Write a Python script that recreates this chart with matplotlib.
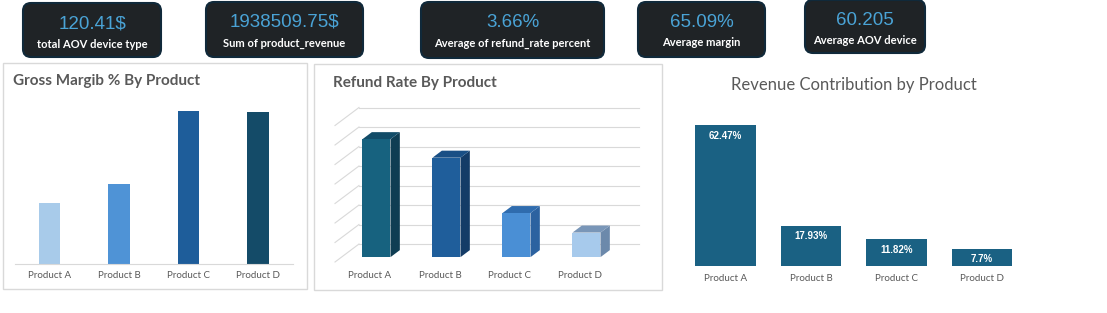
import matplotlib
matplotlib.use("Agg")
import matplotlib.pyplot as plt
from matplotlib.patches import FancyBboxPatch, Rectangle, Polygon

W, H = 1107, 313

# KPI cards
kpi_values = ["120.41$", "1938509.75$", "3.66%", "65.09%", "60.205"]
kpi_labels = ["total AOV device type", "Sum of product_revenue",
              "Average of refund_rate percent", "Average margin", "Average AOV device"]

# chart data
products = ["Product A", "Product B", "Product C", "Product D"]
gross_margin = [35.6, 46.7, 89.3, 88.7]
refund_rate = [6.05, 5.10, 2.26, 1.26]
revenue_share = [62.47, 17.93, 11.82, 7.7]

NARROW = ["Lato", "DejaVu Sans"]
TITLE = ["Lato", "DejaVu Sans"]
GRAY = "#595959"

fig = plt.figure(figsize=(W / 100, H / 100), dpi=100)
fig.patch.set_facecolor("white")


def px_axes(x0, y0, x1, y1):
    # axes placed in pixel coords (y from top)
    return fig.add_axes([x0 / W, 1 - y1 / H, (x1 - x0) / W, (y1 - y0) / H])


bg = fig.add_axes([0, 0, 1, 1])
bg.set_xlim(0, W)
bg.set_ylim(H, 0)
bg.axis("off")

# --- KPI cards ---
cards = [(23, 3, 161, 57), (206, 2, 363, 57), (421, 2, 604, 58),
         (638, 2, 765, 57), (805, 0, 925, 53)]
r = 8
for (x0, y0, x1, y1), val, lab in zip(cards, kpi_values, kpi_labels):
    box = FancyBboxPatch((x0 + r, y0 + r), x1 - x0 - 2 * r, y1 - y0 - 2 * r,
                         boxstyle=f"round,pad={r}", facecolor="#1F2326",
                         edgecolor="#10293A", linewidth=1.5)
    bg.add_patch(box)
    cx = (x0 + x1) / 2
    bg.text(cx, y0 + 20.5, val, ha="center", va="center", fontsize=13.5,
            color="#4AA3D6", family=["Liberation Sans", "DejaVu Sans"])
    bg.text(cx, y0 + 41, lab, ha="center", va="center", fontsize=8,
            color="white", fontweight="bold", family=NARROW)

# --- panel borders + titles ---
bg.add_patch(Rectangle((3, 63), 304, 226, fill=False, edgecolor="#D9D9D9", lw=1))
bg.add_patch(Rectangle((314, 64), 348, 226, fill=False, edgecolor="#D9D9D9", lw=1))
bg.text(13, 81, "Gross Margib % By Product", ha="left", va="center",
        fontsize=11, fontweight="bold", color=GRAY, family=TITLE)
bg.text(333, 83, "Refund Rate By Product", ha="left", va="center",
        fontsize=11, fontweight="bold", color=GRAY, family=TITLE)
bg.text(854, 85, "Revenue Contribution by Product", ha="center", va="center",
        fontsize=12, color=GRAY, family=TITLE)

# --- Gross margin chart ---
ax1 = px_axes(14.75, 100, 292.75, 264)
gm_colors = ["#A8CBEA", "#4F93D6", "#1E5D9A", "#144B68"]
ax1.bar(range(len(products)), gross_margin, width=0.31, color=gm_colors)
ax1.set_xlim(-0.5, 3.5)
ax1.set_ylim(0, 164 / 1.713)
for s in ["top", "right", "left"]:
    ax1.spines[s].set_visible(False)
ax1.spines["bottom"].set_color("#D9D9D9")
ax1.set_yticks([])
ax1.set_xticks(range(len(products)))
ax1.set_xticklabels(products, family=NARROW)
ax1.tick_params(axis="x", length=0, labelsize=7, labelcolor=GRAY, pad=5)
ax1.patch.set_alpha(0)

# --- Refund rate 3D-look chart ---
X0, Y0, CAT, UNIT = 335, 262, 70, 19.5
ax2 = px_axes(330, 100, 645, 266)
ax2.set_xlim(-0.5 + (330 - X0) / CAT, -0.5 + (645 - X0) / CAT)
ax2.set_ylim((Y0 - 266) / UNIT, (Y0 - 100) / UNIT)
ax2.axis("off")
DX, DY = 24 / CAT, 18 / UNIT
for k in range(8):
    ax2.plot([-0.5, -0.5 + DX], [k, k + DY], color="#D9D9D9", lw=0.8, zorder=1)
    ax2.plot([-0.5 + DX, 3.5 + DX], [k + DY, k + DY], color="#D9D9D9", lw=0.8, zorder=1)

rr_front = ["#17627F", "#1F5E9B", "#4A8FD5", "#A7CAEC"]
rr_top = ["#124C68", "#194F85", "#2F6CAE", "#7996B8"]
rr_side = ["#0F3D53", "#143C67", "#2C62A0", "#6C89AB"]
w, d0, dd = 0.4, 0.27, 0.39
for i, v in enumerate(refund_rate):
    xl = i - w / 2 + d0 * DX
    xr = i + w / 2 + d0 * DX
    yb = d0 * DY
    yt = yb + v
    ox, oy = dd * DX, dd * DY
    ax2.add_patch(Polygon([(xr, yb), (xr + ox, yb + oy), (xr + ox, yt + oy), (xr, yt)],
                          closed=True, facecolor=rr_side[i], edgecolor="none", zorder=2))
    ax2.add_patch(Polygon([(xl, yt), (xr, yt), (xr + ox, yt + oy), (xl + ox, yt + oy)],
                          closed=True, facecolor=rr_top[i], edgecolor="none", zorder=2))
    ax2.add_patch(Rectangle((xl, yb), xr - xl, v, facecolor=rr_front[i],
                            edgecolor="none", zorder=3))
    ax2.text(i, (Y0 - 275) / UNIT, products[i], ha="center", va="center",
             fontsize=7, color=GRAY, family=NARROW, clip_on=False)

# --- Revenue contribution chart ---
ax3 = px_axes(682.75, 100, 1024.75, 266)
ax3.bar(range(len(products)), revenue_share, width=0.71, color="#1A6183")
ax3.set_xlim(-0.5, 3.5)
ax3.set_ylim(0, 166 / 2.25)
for s in ax3.spines.values():
    s.set_visible(False)
ax3.set_yticks([])
ax3.set_xticks(range(len(products)))
ax3.set_xticklabels(products, family=NARROW)
ax3.tick_params(axis="x", length=0, labelsize=7, labelcolor=GRAY, pad=6)
ax3.patch.set_alpha(0)
for i, v in enumerate(revenue_share):
    ax3.annotate(f"{v:g}%", (i, v), xytext=(0, -7.5), textcoords="offset points",
                 ha="center", va="center", color="white", fontsize=7,
                 fontweight="bold", family=["Liberation Sans", "DejaVu Sans"])

fig.savefig("out.png", dpi=100)
